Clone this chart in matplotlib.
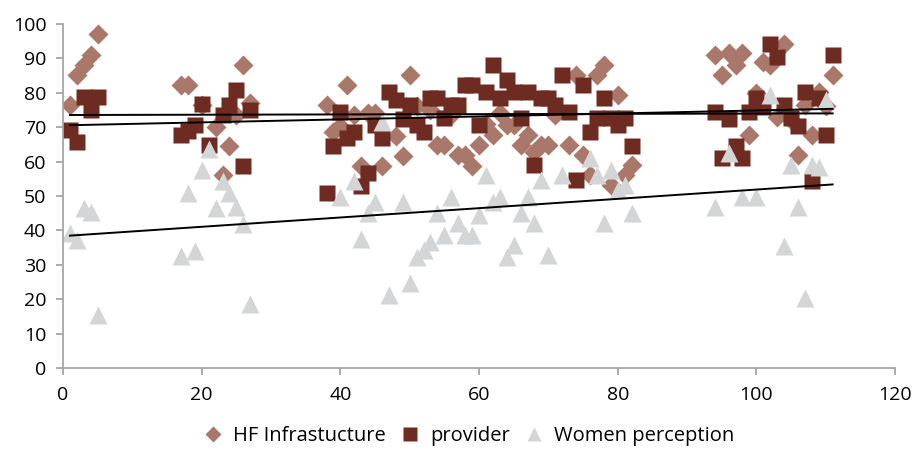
#
# Scatter of facility scores (HF infrastructure, provider, women perception)
# with a linear trend line for each series. Saves "out.png".
#

import numpy as np
import matplotlib
matplotlib.use('Agg')
import matplotlib.pyplot as plt

# HF Infrastucture
hf_x = [1, 2, 3, 4, 5,
        17, 18, 20, 22, 23, 24, 25, 26, 27,
        38, 39, 40, 41, 42, 43, 44, 45, 46, 48, 49, 50, 51, 53, 54, 55, 56, 57,
        58, 59, 60, 61, 62, 63, 64, 65, 66, 67, 68, 69, 70, 71, 73, 74, 75, 76,
        77, 78, 79, 80, 81, 82,
        94, 95, 96, 97, 98, 99, 100, 101, 102, 103, 104, 105, 106, 107, 108, 109,
        110, 111]
hf_y = [76.5, 85, 88, 91, 97,
        82.3, 82.2, 76.4, 70.1, 56, 64.5, 73.5, 88, 77,
        76.4, 68.7, 70.3, 82.2, 73.5, 58.7, 74, 74, 58.7, 67.4, 61.7, 85.1, 76,
        75, 64.8, 64.8, 73.5, 61.9, 61.9, 58.7, 64.8, 71, 67.7, 74, 70.6, 70.6,
        64.8, 67.7, 62.9, 64.8, 64.8, 73.5, 64.8, 85.1, 61.9, 56.1, 85.1, 88,
        53.2, 79.3, 56.1, 59,
        90.9, 85.1, 91.4, 88, 91.4, 67.7, 79.8, 89, 88, 73, 94.1, 72, 61.9, 76.4,
        67.7, 80.3, 76, 85.1]

# provider
prov_x = [1, 2, 3, 4, 5,
          17, 18, 19, 20, 21, 23, 24, 25, 26, 27,
          38, 39, 40, 41, 42, 43, 44, 45, 46, 47, 48, 49, 50, 51, 52, 53, 54, 55,
          56, 57, 58, 59, 60, 61, 62, 63, 64, 65, 66, 67, 68, 69, 70, 71, 72, 73,
          74, 75, 76, 77, 78, 79, 80, 81, 82,
          94, 95, 96, 97, 98, 99, 100, 101, 102, 103, 104, 105, 106, 107, 108,
          109, 110, 111]
prov_y = [69.2, 65.8, 78.8, 75, 78.8,
          67.7, 68.9, 70.5, 76.7, 64.8, 73.5, 76.4, 80.9, 58.8, 75,
          51, 64.5, 74.5, 66.7, 68.7, 52.9, 56.6, 70.6, 66.7, 80.3, 78, 72.3,
          76.4, 70.6, 68.7, 78.4, 78.4, 72.5, 76.4, 76.4, 82.2, 82.2, 70.6, 80.3,
          88, 78.4, 83.7, 80.3, 72.5, 80.3, 59, 78.4, 78.4, 76.4, 85.1, 74.5,
          54.6, 82.2, 68.7, 72.5, 78.4, 72.5, 70.6, 72.5, 64.5,
          74.5, 60.9, 72.3, 64.5, 60.9, 74.5, 78.4, 75.7, 94.1, 90.2, 76.4, 72.5,
          70.3, 80.3, 54.4, 78.4, 67.7, 90.9]

# Women perception
wom_x = [1, 2, 3, 4, 5,
         17, 18, 19, 20, 21, 22, 23, 24, 25, 26, 27,
         40, 42, 43, 44, 45, 46, 47, 49, 50, 51, 52, 53, 54, 55, 56, 57, 58, 59,
         60, 61, 62, 63, 64, 65, 66, 67, 68, 69, 70, 72, 76, 77, 78, 79, 80, 81,
         82,
         94, 96, 98, 100, 102, 104, 105, 106, 107, 108, 109, 110]
wom_y = [39.2, 37.2, 46.4, 45.4, 15.5,
         32.7, 51, 34, 57.5, 63.5, 46.6, 54.4, 51, 46.7, 41.9, 18.7,
         49.8, 54.4, 37.4, 45, 48.3, 71.6, 21.3, 48.3, 24.8, 32.4, 34.3, 36.7,
         45, 38.7, 49.8, 42.1, 38.7, 38.7, 44.5, 56.1, 48.3, 49.8, 32.4, 35.8,
         45, 49.8, 42.1, 54.6, 32.9, 56.1, 60.9, 56.1, 42.1, 57.5, 51.7, 53.2,
         45,
         46.9, 62.4, 49.8, 49.8, 79.3, 35.5, 59, 46.9, 20.3, 59, 58.5, 77.9]

labels = ['HF Infrastucture', 'provider', 'Women perception']
colors = ['#a9786a', '#6e2b22', '#d4d5d6']

plt.rcParams['font.family'] = ['Open Sans', 'DejaVu Sans']

fig = plt.figure(figsize=(9.19, 4.53), dpi=100)
ax = fig.add_axes([0.0686, 0.187, 0.9053, 0.7607])

ax.plot(hf_x, hf_y, 'D', ms=10, color=colors[0], mec='none', label=labels[0])
ax.plot(prov_x, prov_y, 's', ms=11.5, color=colors[1], mec='none', label=labels[1])
ax.plot(wom_x, wom_y, '^', ms=12.5, color=colors[2], mec='none', label=labels[2])

# linear trend lines
for xs, ys in [(hf_x, hf_y), (prov_x, prov_y), (wom_x, wom_y)]:
    k, b = np.polyfit(xs, ys, 1)
    xe = np.array([1, 111])
    ax.plot(xe, k * xe + b, color='black', lw=1.4)

ax.set_xlim(0, 120)
ax.set_ylim(0, 100)
ax.set_xticks(range(0, 121, 20))
ax.set_yticks(range(0, 101, 10))
for s in ['top', 'right']:
    ax.spines[s].set_visible(False)
for s in ['left', 'bottom']:
    ax.spines[s].set_color('#a6a6a6')
    ax.spines[s].set_linewidth(1.3)
ax.tick_params(colors='#a6a6a6', labelcolor='black', labelsize=14, length=5, width=1.3)
ax.tick_params(axis='y', pad=7)
ax.tick_params(axis='x', pad=8)

fig.legend(loc='lower center', bbox_to_anchor=(0.51, -0.025), ncol=3, frameon=False,
           fontsize=14.5, handlelength=1.0, handletextpad=0.5, columnspacing=0.7,
           markerscale=0.85)

fig.savefig('out.png', dpi=100)
